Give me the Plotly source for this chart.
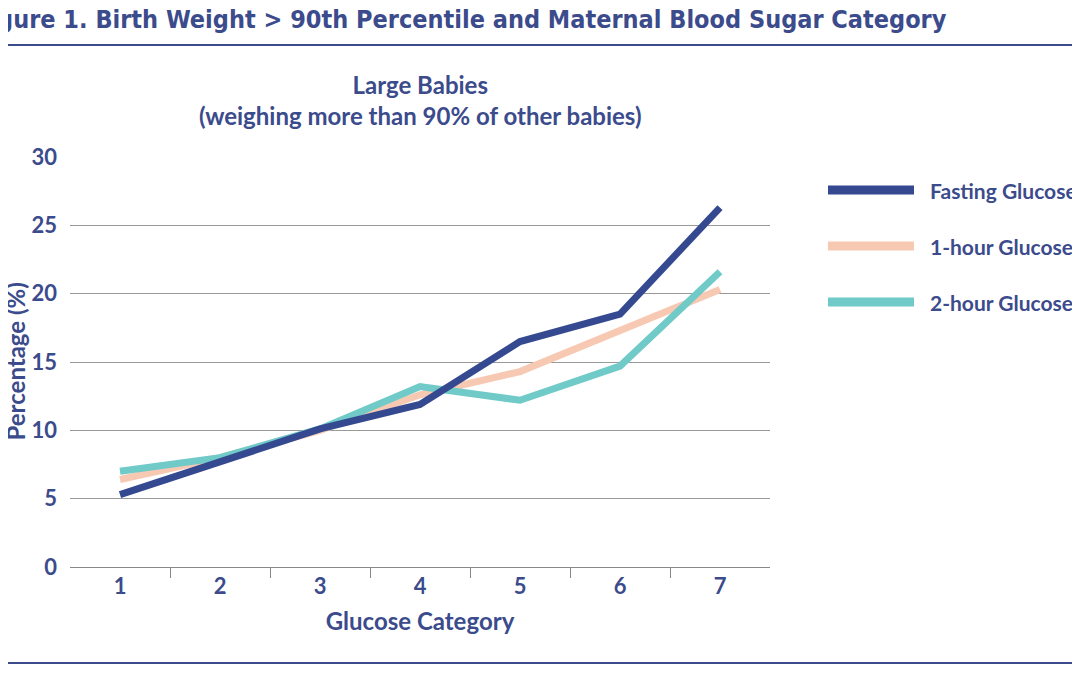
import plotly.graph_objects as go

categories = [1, 2, 3, 4, 5, 6, 7]
series_names = ["Fasting Glucose", "1-hour Glucose", "2-hour Glucose"]
fasting = [5.3, 7.7, 10.1, 11.9, 16.5, 18.5, 26.3]
one_hour = [6.4, 8.0, 10.0, 12.6, 14.3, 17.3, 20.3]
two_hour = [7.0, 8.0, 10.1, 13.2, 12.2, 14.7, 21.6]
colors = ["#34498f", "#f7c9b2", "#6fcac8"]
ink = "#3b4b8c"
font = "Lato"

# page puts the figure ~8px down/right, so targets are shifted by -8
L, T, W, H = 62, 149, 700, 410
def px(x):
    return (x - 8 - L) / W
def py(y):
    return 1 - (y - 8 - T) / H

fig = go.Figure()
for name, vals, col in zip(series_names[1:] + series_names[:1],
                           [one_hour, two_hour, fasting], colors[1:] + colors[:1]):
    fig.add_trace(go.Scatter(x=categories, y=vals, mode="lines", name=name,
                             line=dict(color=col, width=7), showlegend=False))

fig.update_layout(
    width=1080, height=675, plot_bgcolor="white", paper_bgcolor="white",
    margin=dict(l=L, r=1080 - L - W, t=T, b=675 - T - H),
    font=dict(family=font, color=ink),
    xaxis=dict(range=[0.5, 7.5], tickvals=categories, showgrid=False,
               showline=True, linecolor="#888", linewidth=1,
               ticks="", tickfont=dict(size=22, weight="bold"),
               minor=dict(tickvals=[1.5, 2.5, 3.5, 4.5, 5.5, 6.5], ticks="outside",
                          ticklen=10, tickcolor="#888"),
               title=dict(text="Glucose Category", font=dict(size=24, weight="bold"),
                          standoff=14)),
    yaxis=dict(range=[0, 30], dtick=5, showgrid=True, gridcolor="#999", gridwidth=1,
               zeroline=False, tickfont=dict(size=22, weight="bold"), ticks="",
               ticklabelstandoff=12),
)

# legend
for i, (name, col) in enumerate(zip(series_names, colors)):
    y = py(190 + 56 * i)
    fig.add_shape(type="line", xref="paper", yref="paper", x0=px(828), x1=px(914),
                  y0=y, y1=y, line=dict(color=col, width=9))
    fig.add_annotation(xref="paper", yref="paper", x=px(928), y=y, text=name,
                       showarrow=False, xanchor="left", yanchor="middle",
                       font=dict(size=21, weight="bold"))

fig.add_annotation(xref="paper", yref="paper", x=0.5, y=py(100),
                   text="Large Babies<br>(weighing more than 90% of other babies)",
                   showarrow=False, yanchor="middle",
                   font=dict(size=24, weight="bold"))
fig.add_annotation(xref="paper", yref="paper", x=px(-2), y=0.5,
                   text="Percentage (%)", textangle=-90, showarrow=False,
                   font=dict(size=24, weight="bold"))
fig.add_annotation(xref="paper", yref="paper", x=px(-28), y=py(20),
                   text="Figure 1. Birth Weight > 90th Percentile and Maternal Blood Sugar Category",
                   showarrow=False, xanchor="left", yanchor="middle",
                   font=dict(family="DejaVu Sans Condensed", size=25, weight="bold"))
for yy in [45, 663]:
    fig.add_shape(type="line", xref="paper", yref="paper", x0=px(-20), x1=px(1100),
                  y0=py(yy), y1=py(yy), line=dict(color=ink, width=2))

fig.write_html("out.html")
